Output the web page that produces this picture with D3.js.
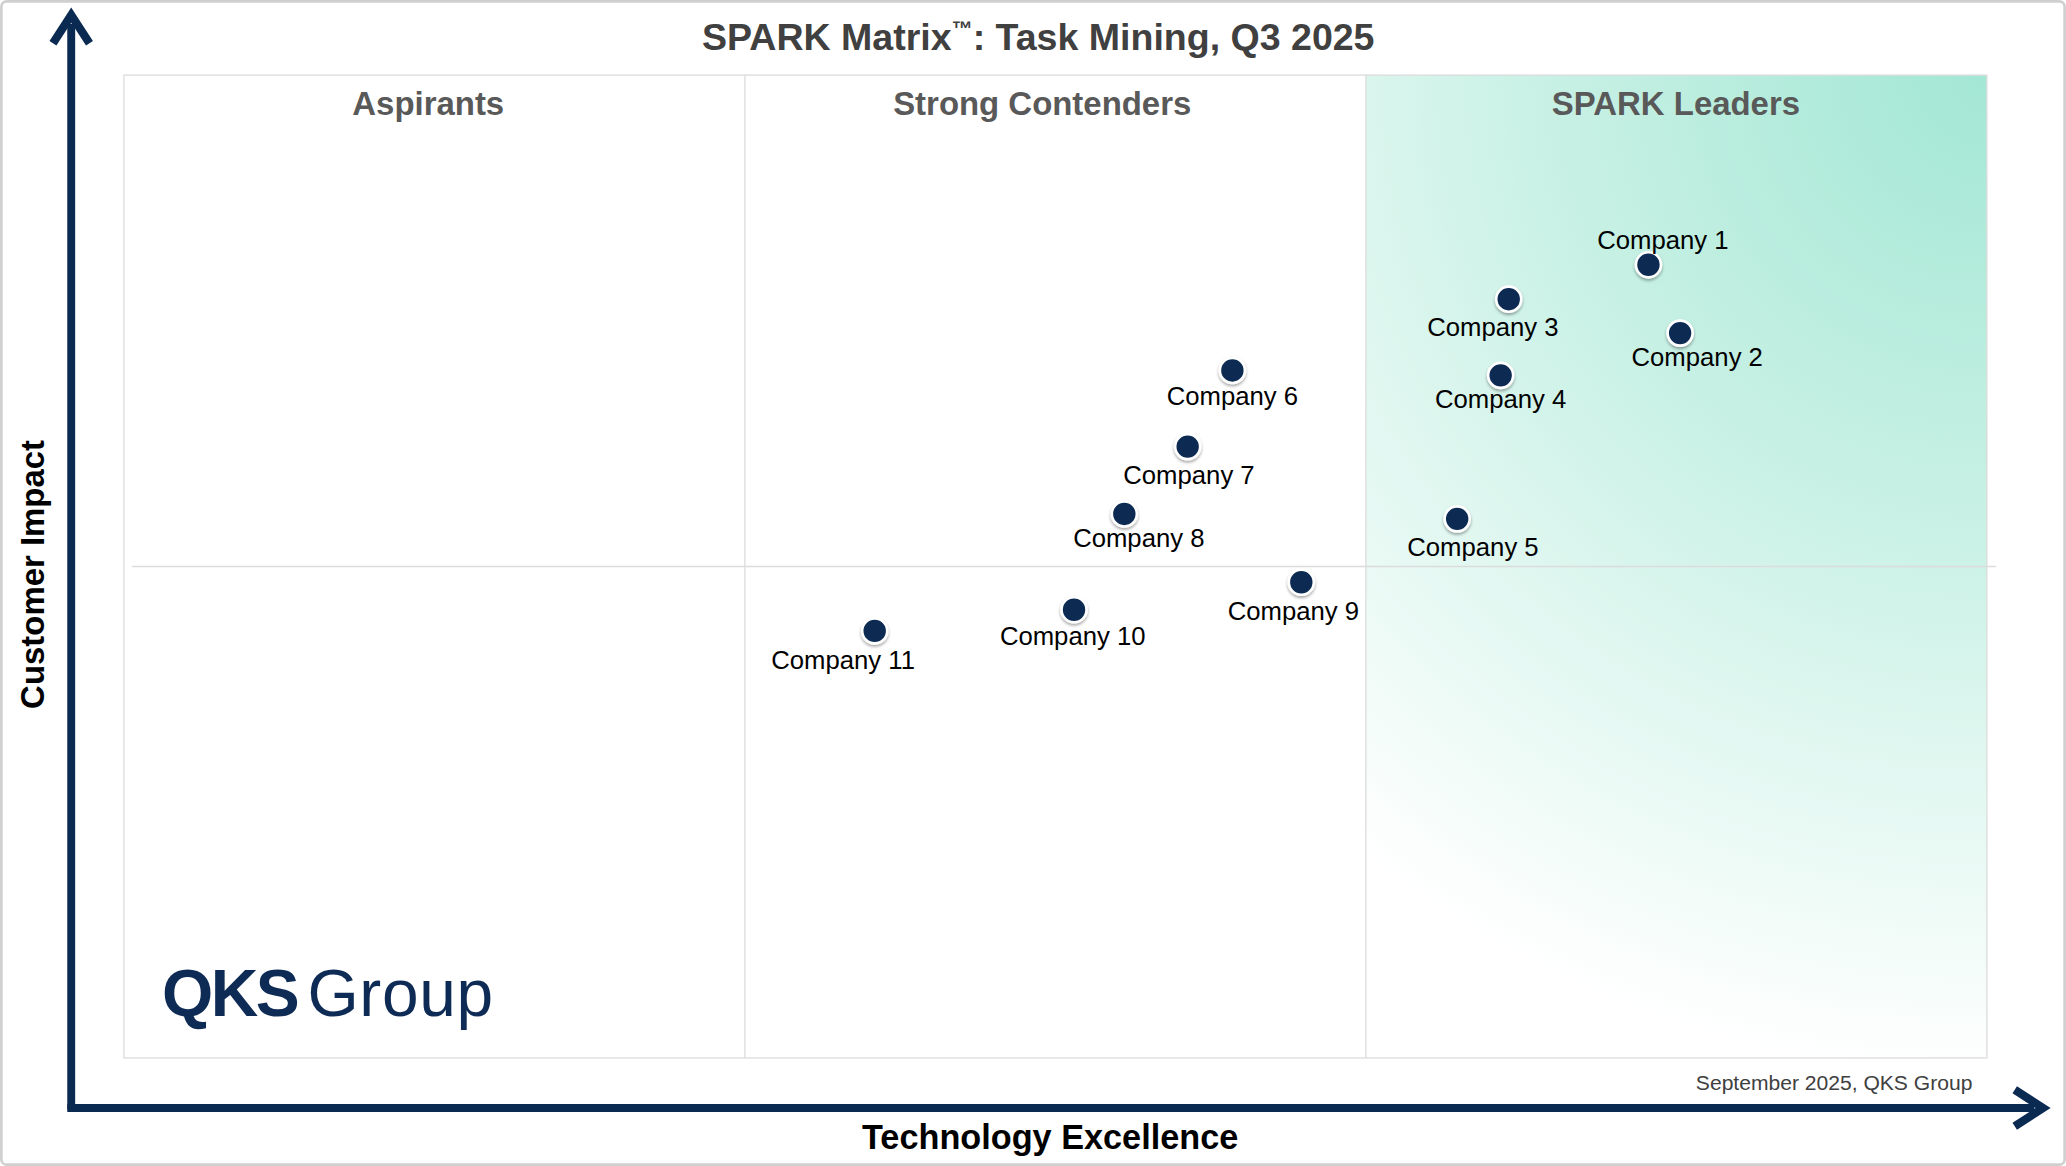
<!DOCTYPE html>
<html>
<head>
<meta charset="utf-8">
<script src="https://cdn.jsdelivr.net/npm/d3@7"></script>
<style>
  body { margin: 0; background: #fff; }
  svg { display: block; font-family: "Liberation Sans", Arial, sans-serif; }
</style>
</head>
<body>
<svg id="chart" width="2066" height="1166" viewBox="0 0 1568 885"></svg>
<script>
// vendor positions: x = technology excellence (0-3), y = customer impact (0-2)
var vendors = [
  { name: "Company 1",  x: 2.455, y: 1.614, dx: 11,  dy: -12 },
  { name: "Company 2",  x: 2.506, y: 1.475, dx: 13,  dy: 25 },
  { name: "Company 3",  x: 2.230, y: 1.544, dx: -12, dy: 28 },
  { name: "Company 4",  x: 2.217, y: 1.389, dx: 0,   dy: 25 },
  { name: "Company 5",  x: 2.147, y: 1.097, dx: 12,  dy: 28 },
  { name: "Company 6",  x: 1.785, y: 1.399, dx: 0,   dy: 26 },
  { name: "Company 7",  x: 1.713, y: 1.244, dx: 1,   dy: 28 },
  { name: "Company 8",  x: 1.611, y: 1.107, dx: 11,  dy: 25 },
  { name: "Company 9",  x: 1.896, y: 0.968, dx: -6,  dy: 29 },
  { name: "Company 10", x: 1.530, y: 0.912, dx: -1,  dy: 27 },
  { name: "Company 11", x: 1.209, y: 0.869, dx: -24, dy: 29 }
];

var box = { left: 94, right: 1508, top: 57, bottom: 803 };

var xscale = d3.scaleLinear().domain([0, 3]).range([box.left, box.right]);
var yscale = d3.scaleLinear().domain([0, 2]).range([box.bottom, box.top]);

var svg = d3.select("#chart");
var defs = svg.append("defs");

var grad = defs.append("radialGradient")
  .attr("id", "leaders")
  .attr("gradientUnits", "userSpaceOnUse")
  .attr("cx", box.right).attr("cy", box.top).attr("r", 760);
grad.append("stop").attr("offset", "0%").attr("stop-color", "#a3e7d4");
grad.append("stop").attr("offset", "45%").attr("stop-color", "#c9f1e5");
grad.append("stop").attr("offset", "100%").attr("stop-color", "#ffffff");

var shadow = defs.append("filter").attr("id", "shadow").attr("x", "-50%").attr("y", "-50%").attr("width", "200%").attr("height", "200%");
shadow.append("feDropShadow").attr("dx", 0).attr("dy", 1.5).attr("stdDeviation", 1.2).attr("flood-color", "#000").attr("flood-opacity", 0.35);

var arrow = defs.append("marker")
  .attr("id", "arrow").attr("viewBox", "0 0 10 10")
  .attr("refX", 6).attr("refY", 5)
  .attr("markerWidth", 5.5).attr("markerHeight", 5.5)
  .attr("orient", "auto-start-reverse");
arrow.append("path").attr("d", "M1.5,0.8 L8,5 L1.5,9.2").attr("fill", "none").attr("stroke", "#0b2a52").attr("stroke-width", 1.9);

// outer frame
svg.append("rect").attr("x", 1).attr("y", 1).attr("width", 1566).attr("height", 883)
  .attr("rx", 4).attr("fill", "#fff").attr("stroke", "#cfcfcf").attr("stroke-width", 2);

// leaders gradient
svg.append("rect")
  .attr("x", xscale(2)).attr("y", box.top)
  .attr("width", xscale(3) - xscale(2)).attr("height", box.bottom - box.top)
  .attr("fill", "url(#leaders)");

// plot border and dividers
svg.append("rect")
  .attr("x", box.left).attr("y", box.top)
  .attr("width", box.right - box.left).attr("height", box.bottom - box.top)
  .attr("fill", "none").attr("stroke", "#dcdcdc");

[1, 2].forEach(function(v) {
  svg.append("line")
    .attr("x1", xscale(v)).attr("x2", xscale(v))
    .attr("y1", box.top).attr("y2", box.bottom)
    .attr("stroke", "#dcdcdc");
});
svg.append("line")
  .attr("x1", 100).attr("x2", 1515)
  .attr("y1", yscale(1)).attr("y2", yscale(1))
  .attr("stroke", "#dcdcdc");

// quadrant headers
var headers = ["Aspirants", "Strong Contenders", "SPARK Leaders"];
var hx = [325, 791, 1272];
headers.forEach(function(h, i) {
  svg.append("text")
    .attr("x", hx[i])
    .attr("y", 87)
    .attr("text-anchor", "middle")
    .attr("font-size", 25).attr("font-weight", "bold")
    .attr("fill", "#595959")
    .text(h);
});

// title
var title = svg.append("text")
  .attr("x", 788).attr("y", 38)
  .attr("text-anchor", "middle")
  .attr("font-size", 28.5).attr("font-weight", "bold")
  .attr("fill", "#404040");
title.append("tspan").text("SPARK Matrix");
title.append("tspan").attr("font-size", 16).attr("dy", -11).text("™");
title.append("tspan").attr("dy", 11).text(": Task Mining, Q3 2025");

// axes arrows
svg.append("line")
  .attr("x1", 54).attr("y1", 842).attr("x2", 54).attr("y2", 18)
  .attr("stroke", "#0b2a52").attr("stroke-width", 6).attr("marker-end", "url(#arrow)");
svg.append("line")
  .attr("x1", 51).attr("y1", 841).attr("x2", 1544).attr("y2", 841)
  .attr("stroke", "#0b2a52").attr("stroke-width", 6).attr("marker-end", "url(#arrow)");

svg.append("text")
  .attr("x", 797).attr("y", 872)
  .attr("text-anchor", "middle")
  .attr("font-size", 26).attr("font-weight", "bold").attr("fill", "#000")
  .text("Technology Excellence");
svg.append("text")
  .attr("transform", "translate(33,436) rotate(-90)")
  .attr("text-anchor", "middle")
  .attr("font-size", 25).attr("font-weight", "bold").attr("fill", "#000")
  .text("Customer Impact");

// footer
svg.append("text")
  .attr("x", 1497).attr("y", 827)
  .attr("text-anchor", "end")
  .attr("font-size", 16).attr("fill", "#404040")
  .text("September 2025, QKS Group");

// logo
var logo = svg.append("text")
  .attr("x", 123).attr("y", 771)
  .attr("font-size", 50).attr("fill", "#0d2b55");
logo.append("tspan").attr("font-weight", "bold").attr("letter-spacing", -2).text("QKS");
logo.append("tspan").attr("dx", 8).attr("letter-spacing", 0.5).text("Group");

// vendors
var g = svg.append("g");
var pts = g.selectAll("g.vendor").data(vendors).enter().append("g").attr("class", "vendor");

pts.append("circle")
  .attr("cx", function(d) { return xscale(d.x); })
  .attr("cy", function(d) { return yscale(d.y); })
  .attr("r", 9.5)
  .attr("fill", "#0b2a52")
  .attr("stroke", "#fff").attr("stroke-width", 2)
  .attr("filter", "url(#shadow)");

pts.append("text")
  .attr("x", function(d) { return xscale(d.x) + d.dx; })
  .attr("y", function(d) { return yscale(d.y) + d.dy; })
  .attr("text-anchor", "middle")
  .attr("font-size", 19.5).attr("fill", "#000")
  .text(function(d) { return d.name; });
</script>
</body>
</html>
